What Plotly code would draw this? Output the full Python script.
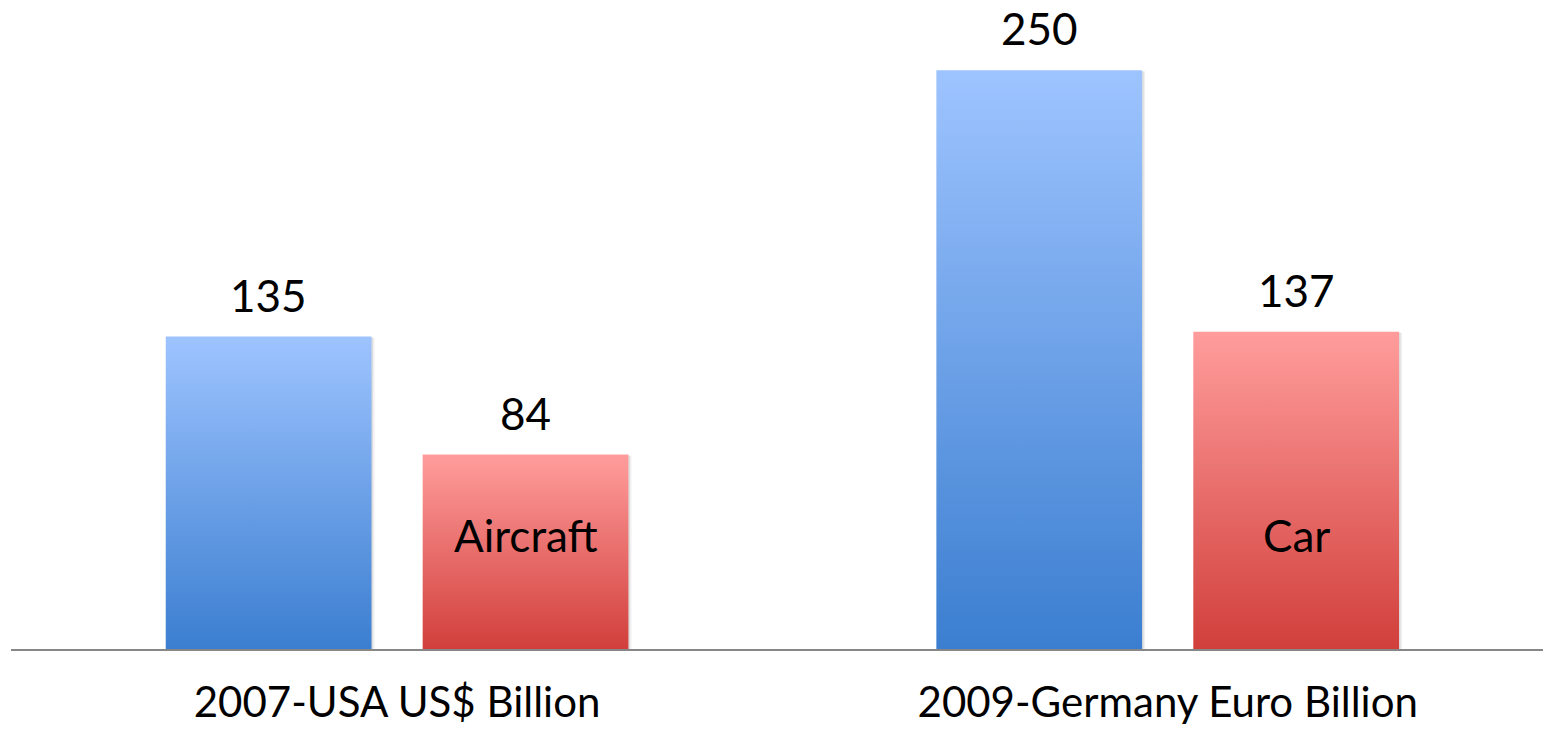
import plotly.graph_objects as go

# Data
categories = ["2007-USA US$ Billion", "2009-Germany Euro Billion"]
economy_values = [135, 250]
industry_values = [84, 137]
industry_labels = ["Aircraft", "Car"]
label_level = 37  # height (data units) where the industry name sits inside the bar

BLUE = [[0, "#3B7ED0"], [1, "#9EC4FF"]]
RED = [[0, "#D13F3B"], [1, "#FF9D9C"]]

BAR_W = 0.267
OFFSET = 0.1667
FONT = "Lato"

fig = go.Figure()


def add_bar(center, value, scale):
    x0, x1 = center - BAR_W / 2, center + BAR_W / 2
    # soft drop shadow
    for k, a in [(0.004, 0.06), (0.002, 0.08)]:
        fig.add_trace(go.Scatter(
            x=[x0 + k, x1 + k, x1 + k, x0 + k, x0 + k],
            y=[0, 0, value - 0.4, value - 0.4, 0],
            mode="lines", line=dict(width=0), fill="toself",
            fillcolor=f"rgba(0,0,0,{a})", hoverinfo="skip", showlegend=False,
        ))
    fig.add_trace(go.Scatter(
        x=[x0, x1, x1, x0, x0],
        y=[0, 0, value, value, 0],
        mode="lines", line=dict(width=0), fill="toself",
        fillgradient=dict(type="vertical", colorscale=scale),
        hoverinfo="skip", showlegend=False,
    ))


for i, cat in enumerate(categories):
    add_bar(i - OFFSET, economy_values[i], BLUE)
    add_bar(i + OFFSET, industry_values[i], RED)

annotations = []
for i in range(len(categories)):
    for xc, v in [(i - OFFSET, economy_values[i]), (i + OFFSET, industry_values[i])]:
        annotations.append(dict(
            x=xc, y=v, xref="x", yref="y", text=str(v), showarrow=False,
            yanchor="bottom", yshift=14, font=dict(family=FONT, size=44, color="#000"),
        ))
    annotations.append(dict(
        x=i + OFFSET, y=label_level, xref="x", yref="y", text=industry_labels[i],
        showarrow=False, yanchor="bottom", font=dict(family=FONT, size=44, color="#000"),
    ))

fig.update_layout(
    width=1543, height=731,
    margin=dict(l=11, r=0, t=24, b=82),
    plot_bgcolor="white", paper_bgcolor="white",
    showlegend=False,
    annotations=annotations,
    xaxis=dict(
        range=[-0.501, 1.487], tickvals=list(range(len(categories))), ticktext=categories,
        showgrid=False, zeroline=False, showline=True, linecolor="#878787", linewidth=2,
        ticks="", tickfont=dict(family=FONT, size=42, color="#000"), ticklabelstandoff=16,
        automargin=False, fixedrange=True,
    ),
    yaxis=dict(range=[0, 270], visible=False, fixedrange=True, automargin=False),
)

fig.write_html("out.html")
